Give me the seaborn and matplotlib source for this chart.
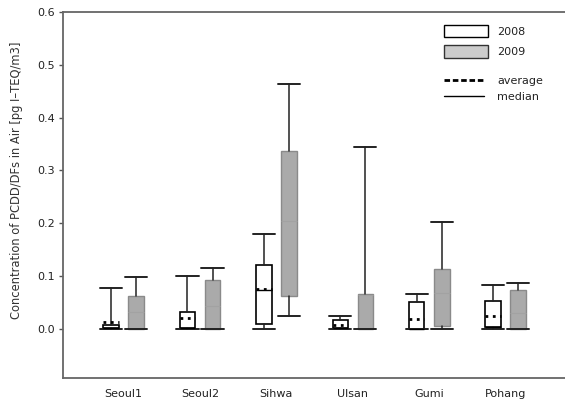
import numpy as np
import matplotlib
matplotlib.use("Agg")
import matplotlib.pyplot as plt
import seaborn as sns
from matplotlib.patches import Patch
from matplotlib.lines import Line2D

# Sampling sites
sites = ['Seoul1', 'Seoul2', 'Sihwa', 'Ulsan', 'Gumi', 'Pohang']

# 2008 box statistics (pg I-TEQ/m3)
min_2008 = [0.0, 0.0, 0.0, 0.0, 0.0, 0.0]
q1_2008 = [0.001, 0.002, 0.0095, 0.001, 0.0, 0.004]
med_2008 = [0.002, 0.002, 0.074, 0.002, 0.0, 0.004]
q3_2008 = [0.0076, 0.033, 0.122, 0.017, 0.051, 0.053]
max_2008 = [0.077, 0.101, 0.180, 0.024, 0.067, 0.083]
mean_2008 = [0.014, 0.020, 0.076, 0.008, 0.018, 0.024]

# 2009 box statistics
min_2009 = [0.0, 0.0, 0.024, 0.0, 0.0, 0.0]
q1_2009 = [0.0, 0.0, 0.0625, 0.0, 0.005, 0.0]
med_2009 = [0.033, 0.043, 0.204, 0.065, 0.069, 0.031]
q3_2009 = [0.0625, 0.093, 0.337, 0.0655, 0.1136, 0.074]
max_2009 = [0.099, 0.116, 0.464, 0.345, 0.202, 0.0865]

yticks = [0.0, 0.1, 0.2, 0.3, 0.4, 0.5, 0.6]


def make_stats(mins, q1s, meds, q3s, maxs, means=None):
    stats = []
    for i in range(len(mins)):
        d = {'whislo': mins[i], 'q1': q1s[i], 'med': meds[i],
             'q3': q3s[i], 'whishi': maxs[i], 'fliers': []}
        d['mean'] = means[i] if means is not None else meds[i]
        stats.append(d)
    return stats


sns.set_style("white")
plt.rcParams['font.family'] = ['DejaVu Sans']

fig = plt.figure(figsize=(5.65, 4.01), dpi=100)
ax = fig.add_axes([63 / 565, 23 / 401, 1 - 63 / 565, (378 - 12) / 401])

pos = np.arange(len(sites))
off = 0.164
bw = 0.203
cw = 0.29

# 2008 boxes
ax.bxp(make_stats(min_2008, q1_2008, med_2008, q3_2008, max_2008, mean_2008),
       positions=pos - off, widths=bw, capwidths=cw, patch_artist=True,
       showmeans=True, meanline=True, manage_ticks=False,
       boxprops=dict(facecolor='white', edgecolor='black', linewidth=1.2),
       whiskerprops=dict(color='#222222', linewidth=1.1),
       capprops=dict(color='#222222', linewidth=1.4),
       medianprops=dict(color='black', linewidth=1.0),
       meanprops=dict(color='black', linestyle=':', linewidth=2.0))

# 2009 boxes
ax.bxp(make_stats(min_2009, q1_2009, med_2009, q3_2009, max_2009),
       positions=pos + off, widths=bw, capwidths=cw, patch_artist=True,
       showmeans=False, manage_ticks=False,
       boxprops=dict(facecolor='#aaaaaa', edgecolor='#8a8a8a', linewidth=1.0),
       whiskerprops=dict(color='#222222', linewidth=1.1),
       capprops=dict(color='#222222', linewidth=1.4),
       medianprops=dict(color='#a2a2a2', linewidth=0.8))

ax.set_xlim(-0.793, 5.777)
ax.set_ylim(-0.0928, 0.6)
ax.set_xticks(pos)
ax.set_xticklabels(sites, fontsize=8, color='#222222')
ax.set_yticks(yticks)
ax.set_yticklabels([f'{t:.1f}' for t in yticks], fontsize=8, color='#222222')
ax.tick_params(axis='x', length=0, pad=8)
ax.tick_params(axis='y', direction='out', length=3, width=1, color='#555555', pad=3, left=True)
ax.set_ylabel('Concentration of PCDD/DFs in Air [pg I\u2013TEQ/m3]', fontsize=8.3, color='#333333')
ax.yaxis.set_label_coords(-0.08, 0.54)

for side in ['top', 'bottom', 'left']:
    ax.spines[side].set_color('#666666')
    ax.spines[side].set_linewidth(1.3)
ax.spines['right'].set_visible(False)

box_handles = [Patch(facecolor='white', edgecolor='black', linewidth=1.0),
               Patch(facecolor='#cccccc', edgecolor='#333333', linewidth=1.0)]
line_handles = [Line2D([], [], color='black', linestyle='--', linewidth=2.0, dashes=(2, 1)),
                Line2D([], [], color='black', linewidth=1.0)]
leg1 = fig.legend(box_handles, ['2008', '2009'], loc='upper left',
                  bbox_to_anchor=(434 / 565, 1 - 15 / 401), frameon=False, fontsize=8,
                  handlelength=4.0, handleheight=1.3, labelspacing=0.75,
                  handletextpad=0.8, labelcolor='#222222')
leg2 = fig.legend(line_handles, ['average', 'median'], loc='upper left',
                  bbox_to_anchor=(434 / 565, 1 - 66 / 401), frameon=False, fontsize=8,
                  handlelength=3.6, labelspacing=0.5,
                  handletextpad=1.2, labelcolor='#222222')

fig.savefig('out.png', dpi=100)
